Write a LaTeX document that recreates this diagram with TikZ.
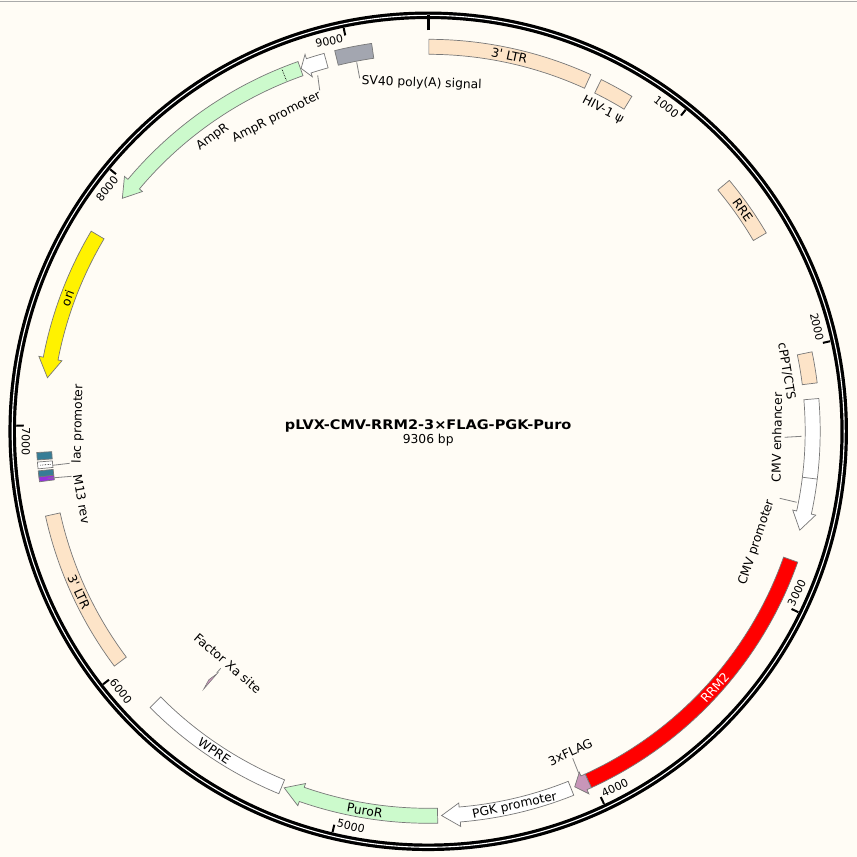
\documentclass[tikz,border=0pt]{standalone}
\usepackage{fontspec}
\setmainfont{DejaVu Sans}
\definecolor{bgc}{RGB}{255,252,245}
\definecolor{peach}{RGB}{253,228,200}
\definecolor{lgreen}{RGB}{204,250,204}
\definecolor{fgray}{RGB}{163,166,176}
\definecolor{flagc}{RGB}{200,150,185}
\definecolor{lacteal}{RGB}{55,125,150}
\definecolor{mthirteen}{RGB}{150,50,220}
\definecolor{outl}{RGB}{120,120,120}
\definecolor{connc}{RGB}{130,130,130}
\definecolor{topline}{RGB}{170,170,170}
\newcommand\trIn{377}
\newcommand\trOut{392}
\newcommand\trMid{384.5}
\newcommand\trInM{373}
\newcommand\trOutP{396.5}
% box feature: #1 start angle, #2 end angle (clockwise from top), #3 style
\newcommand\featbox[3]{\draw[feat,#3] ({90-(#1)}:\trOut) arc[start angle={90-(#1)}, end angle={90-(#2)}, radius=\trOut] -- ({90-(#2)}:\trIn) arc[start angle={90-(#2)}, end angle={90-(#1)}, radius=\trIn] -- cycle;}
% arrow feature: #1 tail angle, #2 head base angle, #3 tip angle, #4 style
\newcommand\featarrow[4]{\draw[feat,#4] ({90-(#1)}:\trOut) arc[start angle={90-(#1)}, end angle={90-(#2)}, radius=\trOut] -- ({90-(#2)}:\trOutP) -- ({90-(#3)}:\trMid) -- ({90-(#2)}:\trInM) -- ({90-(#2)}:\trIn) arc[start angle={90-(#2)}, end angle={90-(#1)}, radius=\trIn] -- cycle;}
\begin{document}
\begin{tikzpicture}[x=1pt,y=1pt,
  feat/.style={draw=outl, line width=0.7pt, line join=miter},
  lbl/.style={font=\fontsize{12.3}{14}\selectfont, inner sep=0pt, text=black},
  tkl/.style={font=\fontsize{11}{13}\selectfont, inner sep=0pt},
  conn/.style={draw=connc, line width=0.8pt},
  tickline/.style={line width=2pt}]
\fill[bgc] (0,0) rectangle (857,857);
\useasboundingbox (0,0) rectangle (857,857);
\draw[draw=topline, line width=1.5pt] (0,855.5) -- (857,855.5);
\begin{scope}[shift={(428.2,425.7)}]
  % backbone ring
  \draw[line width=7.5pt] (0,0) circle[radius=416];
  \draw[line width=1.1pt, white] (0,0) circle[radius=416];
  \draw[line width=3pt] (90:401) -- (90:416);
  \foreach \t in {38.685,77.370,116.054,154.739,193.424,232.109,270.793,309.478,348.163}
    \draw[tickline] ({90-\t}:404.5) -- ({90-\t}:412);
  % tick labels
  \node[tkl, anchor=north east, rotate=-38.685] (t1) at ({90-38.3}:406.5) {1000};
  \node[tkl, anchor=north east, rotate=-77.370] (t2) at ({90-77.0}:406.5) {2000};
  \node[tkl, anchor=south west, rotate=63.946] (t3) at ({90-115.7}:406.5) {3000};
  \node[tkl, anchor=south west, rotate=25.261] (t4) at ({90-154.4}:406.5) {4000};
  \node[tkl, anchor=south west, rotate=-13.424] (t5) at ({90-193.1}:406.5) {5000};
  \node[tkl, anchor=south west, rotate=-52.109] (t6) at ({90-231.8}:406.5) {6000};
  \node[tkl, anchor=south west, rotate=-90.793] (t7) at ({90-270.5}:406.5) {7000};
  \node[tkl, anchor=north east, rotate=50.522] (t8) at ({90-309.1}:406.5) {8000};
  \node[tkl, anchor=north east, rotate=11.837] (t9) at ({90-347.8}:406.5) {9000};
  % features
  \featbox{0.1}{24.5}{fill=peach}
  \featbox{26.2}{31.3}{fill=peach}
  \featbox{50.2}{59.6}{fill=peach}
  \featbox{78.3}{82.9}{fill=peach}
  \featarrow{85.2}{102.2}{104.9}{fill=white}
  \draw[feat] ({90-97}:\trIn) -- ({90-97}:\trOut);
  \featbox{109.5}{155.4}{fill=red}
  \featarrow{155.4}{156.1}{157.6}{fill=flagc}
  \featarrow{158.2}{175.3}{178.0}{fill=white}
  \featarrow{178.6}{199.2}{202.0}{fill=lgreen}
  \featbox{202.4}{225.2}{fill=white}
  \draw[feat, fill=flagc, line width=0.5pt] ({90-221.05}:321) -- ({90-221.05}:342) -- ({90-221.45}:331.5) -- cycle;
  \featbox{233.2}{257.5}{fill=peach}
  \featbox{265.8}{266.9}{fill=lacteal}
  \featbox{264.5}{265.5}{fill=white}
  \draw[densely dotted, line width=0.6pt] ({90-265.0}:379) -- ({90-265.0}:390);
  \featbox{263.3}{264.2}{fill=lacteal}
  \featbox{262.6}{263.3}{fill=mthirteen}
  \featarrow{300.7}{280.9}{278.0}{fill=yellow}
  \featarrow{340.6}{310.0}{307.3}{fill=lgreen}
  \draw[densely dotted, line width=0.7pt] ({90-338}:378.5) -- ({90-338}:390.5);
  \featarrow{344.6}{341.9}{340.7}{fill=white}
  \featbox{346.2}{351.7}{fill=fgray}
  % labels inside features
  \node[lbl, rotate=-12.2] (ltrA) at ({90-12.2}:\trMid) {3\textquotesingle{} LTR};
  \node[lbl, rotate=-54.9] (rre) at ({90-54.9}:\trMid) {RRE};
  \node[lbl, rotate=48.2, text=white] (rrm) at ({90-131.8}:\trMid) {RRM2};
  \node[lbl, rotate=12] (pgk) at ({90-167}:\trMid) {PGK promoter};
  \node[lbl, rotate=-9.5] (puro) at ({90-189.5}:\trMid) {PuroR};
  \node[lbl, rotate=-33.8] (wpre) at ({90-213.8}:\trMid) {WPRE};
  \node[lbl, rotate=-65.3] (ltrB) at ({90-245.3}:\trMid) {3\textquotesingle{} LTR};
  \node[lbl, rotate=69.7] (ori) at ({90-290.3}:\trMid) {ori};
  % outside / inner labels
  \node[lbl, rotate=-27.5] (hiv) at ({90-28.55}:365.8) {HIV-1 ψ};
  \node[lbl, rotate=-80.5] (cppt) at ({90-80.5}:363.5) {cPPT/CTS};
  \node[lbl, rotate=89] (cmve) at ({90-91}:348.6) {CMV enhancer};
  \node[lbl, rotate=71.5] (cmvp) at ({90-108.67}:346.7) {CMV promoter};
  \node[lbl, rotate=24.5] (flag) at ({90-156.1}:351) {3xFLAG};
  \node[lbl, rotate=-40.8] (fxa) at ({90-220.8}:306.6) {Factor Xa site};
  \node[lbl, rotate=88.6, anchor=west] (lacp) at (-351,-32) {lac promoter};
  \node[lbl, rotate=-80] (mrev) at (-346.5,-68) {M13 rev};
  \node[lbl, rotate=36.3] (ampr) at (-215.5,294) {AmpR};
  \node[lbl, rotate=27] (amprp) at (-151.5,314) {AmpR promoter};
  \node[lbl, rotate=-2] (sv) at (-6.5,348) {SV40 poly(A) signal};
  % connectors
  \coordinate (svA) at (-71.5,369); \coordinate (svB) at (-68.5,353);
  \draw[conn] (svA) -- (svB);
  \coordinate (apA) at (-110.5,356); \coordinate (apB) at (-108.5,341);
  \draw[conn] (apA) -- (apB);
  \coordinate (ceA) at (373.5,-5); \coordinate (ceB) at (356.5,-6);
  \draw[conn] (ceA) -- (ceB);
  \coordinate (cpA) at (368.5,-71); \coordinate (cpB) at (351.5,-67);
  \draw[conn] (cpA) -- (cpB);
  \coordinate (flA) at (150.5,-342); \coordinate (flB) at (144.5,-327);
  \draw[conn] (flA) -- (flB);
  \coordinate (fxA) at ({90-221.2}:321); \coordinate (fxB) at ({90-221.2}:315);
  \draw[conn] (fxA) -- (fxB);
  \coordinate (lpA) at (-375.5,-34); \coordinate (lpB) at (-358.5,-32);
  \draw[conn] (lpA) -- (lpB);
  \coordinate (mrA) at (-380.5,-47); \coordinate (mrB) at (-356.5,-45);
  \draw[conn] (mrA) -- (mrB);
  % title
  \node[font=\bfseries\fontsize{13.2}{15}\selectfont, inner sep=0pt] (title) at (0,5.3) {\scalebox{1.1}[1]{pLVX-CMV-RRM2-3×FLAG-PGK-Puro}};
  \node[font=\fontsize{12.3}{14}\selectfont, inner sep=0pt] (size) at (0,-8.7) {9306 bp};
\end{scope}
\end{tikzpicture}
\end{document}
